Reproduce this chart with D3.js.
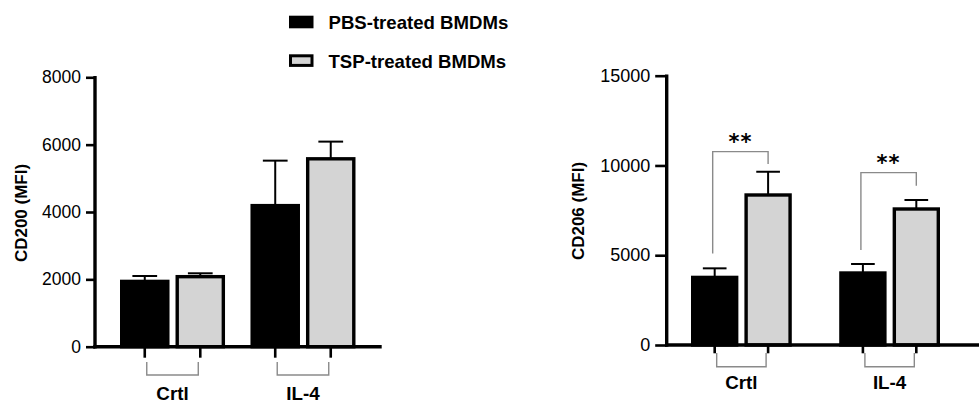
<!DOCTYPE html>
<html>
<head>
<meta charset="utf-8">
<script src="https://cdn.jsdelivr.net/npm/d3@7"></script>
<style>
  html, body { margin: 0; padding: 0; background: #fff; }
  svg { display: block; }
  text { font-family: "Liberation Sans", Arial, Helvetica, sans-serif; fill: #000; }
</style>
</head>
<body>
<svg id="chart" width="979" height="403"></svg>
<script>
// ---------- data ----------
const groups = ["Crtl", "IL-4"];
const seriesNames = ["PBS-treated BMDMs", "TSP-treated BMDMs"];
const seriesFill = ["#000000", "#d4d4d4"];

const cd200PBS = [1990, 4240];
const cd200TSP = [2130, 5630];
const cd200PBSErr = [110, 1285];
const cd200TSPErr = [50, 460];
const cd200Ticks = [0, 2000, 4000, 6000, 8000];

const cd206PBS = [3860, 4105];
const cd206TSP = [8450, 7670];
const cd206PBSErr = [410, 407];
const cd206TSPErr = [1200, 407];
const cd206Ticks = [0, 5000, 10000, 15000];

// significance brackets (CD206 panel)
const sigGroups = ["Crtl", "IL-4"];
const sigTop = [10770, 9600];
const sigLeftBottom = [5100, 5290];
const sigRightBottom = [10080, 8870];
const sigLabels = ["**", "**"];

const svg = d3.select("#chart");

function drawPanel(p) {
  const g = svg.append("g");
  const y = d3.scaleLinear().domain([0, p.yMax]).range([p.yBottom, p.yTop]);
  const x0 = d3.scaleBand().domain(groups).range(p.xRange).paddingInner(p.padInner).paddingOuter(0);
  const x1 = d3.scaleBand().domain(seriesNames).range([0, x0.bandwidth()]).paddingInner(p.innerPad).paddingOuter(0);

  const rows = [];
  groups.forEach((grp, i) => {
    seriesNames.forEach((s, j) => {
      rows.push({grp, s, j, v: p.values[j][i], e: p.errors[j][i]});
    });
  });
  const sw = 3.4;
  rows.forEach(d => {
    const cx = x0(d.grp) + x1(d.s) + x1.bandwidth() / 2;
    g.append("line").attr("x1", cx).attr("x2", cx)
      .attr("y1", y(d.v) + 2).attr("y2", y(d.v + d.e))
      .attr("stroke", "#000").attr("stroke-width", 2);
    g.append("line").attr("x1", cx - x1.bandwidth() * 0.25).attr("x2", cx + x1.bandwidth() * 0.25)
      .attr("y1", y(d.v + d.e)).attr("y2", y(d.v + d.e))
      .attr("stroke", "#000").attr("stroke-width", 2);
  });
  rows.forEach(d => {
    const bx = x0(d.grp) + x1(d.s);
    g.append("rect")
      .attr("x", bx + sw / 2).attr("width", x1.bandwidth() - sw)
      .attr("y", y(d.v) + sw / 2).attr("height", y(0) - y(d.v) - sw / 2)
      .attr("fill", seriesFill[d.j]).attr("stroke", "#000").attr("stroke-width", sw);
  });

  // y axis
  const yAxis = d3.axisLeft(y).tickValues(p.ticks).tickSize(p.tickLen).tickSizeOuter(0)
    .tickPadding(p.tickPad).tickFormat(d3.format("d"));
  const ya = g.append("g").attr("transform", `translate(${p.yAxisX},0)`).call(yAxis);
  ya.select(".domain").remove();
  ya.selectAll(".tick line").attr("stroke", "#000").attr("stroke-width", 2.6);
  ya.selectAll(".tick text").attr("font-size", p.tickFont).attr("fill", "#111")
    .style("font-family", '"Liberation Sans", Arial, sans-serif');
  g.append("line").attr("x1", p.yAxisX).attr("x2", p.yAxisX)
    .attr("y1", p.yTop - 1.3).attr("y2", p.yBottom + 1.7)
    .attr("stroke", "#000").attr("stroke-width", 3.4);

  // x axis line
  g.append("line").attr("x1", p.yAxisX - 1.7).attr("x2", p.axisEnd)
    .attr("y1", p.yBottom).attr("y2", p.yBottom)
    .attr("stroke", "#000").attr("stroke-width", 3.4);

  groups.forEach(grp => {
    const cxs = seriesNames.map(s => x0(grp) + x1(s) + x1.bandwidth() / 2);
    cxs.forEach(cx => {
      g.append("line").attr("x1", cx).attr("x2", cx)
        .attr("y1", p.yBottom).attr("y2", p.yBottom + p.xTickLen)
        .attr("stroke", "#000").attr("stroke-width", 2.6);
    });
    const bx0 = cxs[0] + 2, bx1 = cxs[1] - 2;
    g.append("path")
      .attr("d", `M${bx0},${p.bracketTop} V${p.bracketY} H${bx1} V${p.bracketTop}`)
      .attr("fill", "none").attr("stroke", "#8a8a8a").attr("stroke-width", 1.4);
    g.append("text").attr("x", (cxs[0] + cxs[1]) / 2).attr("y", p.labelBaseline)
      .attr("text-anchor", "middle").attr("font-size", 18.8).attr("font-weight", "bold")
      .text(grp);
  });

  g.append("text")
    .attr("transform", `translate(${p.yLabelX},${p.yLabelCenter}) rotate(-90)`)
    .attr("text-anchor", "middle").attr("font-size", 17).attr("font-weight", "bold")
    .text(p.yLabel);

  return {x0, x1, y, g};
}

// ---------- left panel ----------
drawPanel({
  yMax: 8000, yTop: 77.3, yBottom: 346.7, yAxisX: 95,
  xRange: [120, 355.5], padInner: 0.195, innerPad: 0.108,
  values: [cd200PBS, cd200TSP], errors: [cd200PBSErr, cd200TSPErr],
  ticks: cd200Ticks, tickLen: 9, tickPad: 5, tickFont: 17.5,
  axisEnd: 381.7, xTickLen: 11, bracketTop: 362, bracketY: 375, labelBaseline: 400,
  yLabel: "CD200 (MFI)", yLabelX: 26.5, yLabelCenter: 213
});

// ---------- right panel ----------
const right = drawPanel({
  yMax: 15000, yTop: 75.7, yBottom: 345, yAxisX: 666.7,
  xRange: [691, 940], padInner: 0.32, innerPad: 0.113,
  values: [cd206PBS, cd206TSP], errors: [cd206PBSErr, cd206TSPErr],
  ticks: cd206Ticks, tickLen: 11.5, tickPad: 5, tickFont: 18,
  axisEnd: 979, xTickLen: 8.3, bracketTop: 353, bracketY: 366.7, labelBaseline: 388.5,
  yLabel: "CD206 (MFI)", yLabelX: 583.5, yLabelCenter: 211
});

// significance brackets
sigGroups.forEach((grp, i) => {
  const {x0, x1, y, g} = right;
  const xl = x0(grp) + x1(seriesNames[0]) + x1.bandwidth() / 2 - 2;
  const xr = x0(grp) + x1(seriesNames[1]) + x1.bandwidth() / 2;
  g.append("path")
    .attr("d", `M${xl},${y(sigLeftBottom[i])} V${y(sigTop[i])} H${xr} V${y(sigRightBottom[i])}`)
    .attr("fill", "none").attr("stroke", "#8a8a8a").attr("stroke-width", 1.4);
  g.append("text").attr("x", (xl + xr) / 2).attr("y", y(sigTop[i]) - 3)
    .attr("text-anchor", "middle").attr("font-size", 21).attr("font-weight", "bold")
    .style("font-family", '"DejaVu Sans", sans-serif')
    .attr("letter-spacing", 1)
    .text(sigLabels[i]);
});

// ---------- legend ----------
const legY = [15.7, 54.3];
seriesNames.forEach((s, j) => {
  const sw = j === 0 ? 0 : 3;
  svg.append("rect")
    .attr("x", 289 + sw / 2).attr("y", legY[j] + sw / 2)
    .attr("width", 24.5 - sw).attr("height", 12.6 - sw)
    .attr("fill", seriesFill[j]).attr("stroke", "#000").attr("stroke-width", sw);
  svg.append("text").attr("x", 328.5).attr("y", legY[j] + 13.3)
    .attr("font-size", 18.6).attr("font-weight", "bold").text(s);
});
</script>
</body>
</html>
